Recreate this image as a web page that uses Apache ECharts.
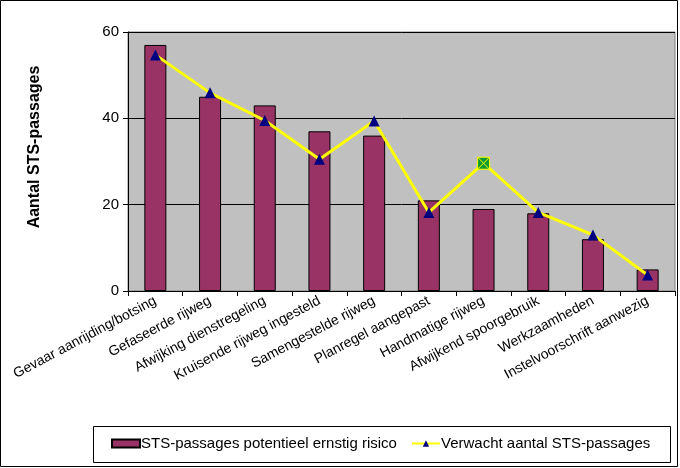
<!DOCTYPE html>
<html>
<head>
<meta charset="utf-8">
<script src="https://cdn.jsdelivr.net/npm/echarts@6/dist/echarts.min.js"></script>
<style>
html,body{margin:0;padding:0;background:#fff;}
#c{width:680px;height:468px;}
</style>
</head>
<body>
<div id="c"></div>
<script>
const categories = ["Gevaar aanrijding/botsing","Gefaseerde rijweg","Afwijking dienstregeling","Kruisende rijweg ingesteld","Samengestelde rijweg","Planregel aangepast","Handmatige rijweg","Afwijkend spoorgebruik","Werkzaamheden","Instelvoorschrift aanwezig"];
const barValues = [57, 45, 43, 37, 36, 21, 19, 18, 12, 5];
const lineValues = [54.7, 45.9, 39.5, 30.5, 39.4, 18.2, 29.6, 18.2, 13.0, 3.7];
const specialIndex = 6;
const yTicks = [0, 20, 40, 60];
const barName = "STS-passages potentieel ernstig risico";
const lineName = "Verwacht aantal STS-passages";
const yTitle = "Aantal STS-passages";

const font = "'Liberation Sans', Arial, sans-serif";
const chart = echarts.init(document.getElementById('c'), null, {renderer:'canvas'});

const lineData = lineValues.map((v, i) => i === specialIndex ? {
  value: v,
  symbol: 'path://M0,0 L10,0 L10,10 L0,10 Z M0,0 L10,10 M10,0 L0,10',
  symbolSize: 12,
  itemStyle: {color: '#0E9A2E', borderColor: '#FFFF00', borderWidth: 1}
} : v);

chart.setOption({
  animation: false,
  textStyle: {fontFamily: font},
  graphic: [
    {type:'rect', shape:{x:0.5, y:0.5, width:677, height:466}, style:{fill:'none', stroke:'#000', lineWidth:1}, z:-10},
    {type:'rect', shape:{x:93.5, y:426.5, width:577, height:36}, style:{fill:'#fff', stroke:'#000', lineWidth:1}, z:-5},
    {type:'text', x:35, y:147, rotation: Math.PI/2,
     style:{text: yTitle, fontFamily: font, fontSize: 16, fontWeight:'bold', fill:'#000', align:'center', verticalAlign:'middle'}}
  ],
  grid: {left:128, right:5, top:32, bottom:177, show:true, backgroundColor:'#C0C0C0', borderColor:'#808080', borderWidth:1},
  legend: {
    left: 111, top: 436,
    padding: 0,
    itemGap: 14,
    itemWidth: 28, itemHeight: 8,
    textStyle: {fontFamily: font, fontSize: 15, color:'#000', padding:[0,0,0,-4]},
    data: [
      {name: barName, icon: 'rect'},
      {name: lineName}
    ]
  },
  xAxis: {
    type: 'category',
    data: categories,
    boundaryGap: true,
    axisLine: {show:true, lineStyle:{color:'#000', width:1}},
    axisTick: {show:true, alignWithLabel:false, inside:false, length:5, lineStyle:{color:'#000'}},
    axisLabel: {rotate: 28, interval: 0, fontSize: 14, color:'#000', fontFamily: font, margin: 9}
  },
  yAxis: {
    type: 'value',
    min: 0, max: 60, interval: 20,
    axisLine: {show:true, lineStyle:{color:'#000', width:1}},
    axisTick: {show:true, length:5, lineStyle:{color:'#000'}},
    axisLabel: {fontSize: 15, color:'#000', fontFamily: font, margin: 9, formatter: v => yTicks.includes(v) ? String(v) : ''},
    splitLine: {show:true, lineStyle:{color:'#000', width:1}}
  },
  series: [
    {
      name: barName,
      type: 'bar',
      data: barValues,
      barWidth: 22,
      itemStyle: {color:'#993366', borderColor:'#000', borderWidth:1}
    },
    {
      name: lineName,
      type: 'line',
      data: lineData,
      symbol: 'triangle',
      symbolSize: 11,
      showAllSymbol: true,
      lineStyle: {color:'#FFFF00', width: 3},
      itemStyle: {color:'#000080'},
      z: 5
    }
  ]
});
</script>
</body>
</html>
